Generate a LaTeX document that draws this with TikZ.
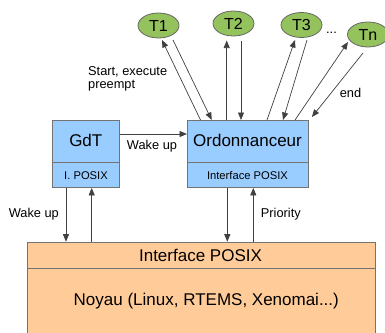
\documentclass[tikz,border=0pt]{standalone}
\usepackage{fontspec}
\setmainfont{Liberation Sans}
\usetikzlibrary{arrows.meta,calc,shapes.geometric}
\definecolor{taskgreen}{HTML}{94C25C}
\definecolor{boxblue}{HTML}{99CCFF}
\definecolor{boxorange}{HTML}{FFCC99}
\begin{document}
\begin{tikzpicture}[x=1pt,y=-1pt,
  task/.style={ellipse, draw=black!60, line width=0.8pt, fill=taskgreen,
    minimum width=41pt, minimum height=25pt, inner sep=0pt,
    font=\fontsize{16}{16}\selectfont},
  bluebox/.style={draw=black!55, line width=0.9pt, fill=boxblue, inner sep=0pt, anchor=north west},
  orangebox/.style={draw=black!55, line width=0.9pt, fill=boxorange, inner sep=0pt, anchor=north west},
  divider/.style={draw=black!55, line width=0.9pt},
  lblbig/.style={inner sep=0pt, font=\fontsize{17}{20}\selectfont},
  lblsmall/.style={inner sep=0pt, font=\fontsize{11.2}{13}\selectfont},
  lblmid/.style={inner sep=0pt, font=\fontsize{12.8}{12.5}\selectfont},
  conn/.style={draw=black!75, line width=0.7pt, -{Triangle[length=7.5pt,width=6pt]}}
]
\useasboundingbox (0,0) rectangle (385,332);
\clip (0,0) rectangle (385,332);

% tasks
\node[task] (t1) at (158.5,25.5) {T1};
\node[task] (t2) at (233.5,23.5) {T2};
\node[task] (t3) at (301.5,25) {T3};
\node[task] (tn) at (368,34.5) {Tn};
\node[lblmid, anchor=base] (ldots) at (331.5,33.5) {...};

% boxes
\node[bluebox, minimum width=67pt, minimum height=67pt] (gdt) at (52,120) {};
\node[bluebox, minimum width=121pt, minimum height=67pt] (ord) at (187,120) {};
\node[orangebox, minimum width=348.3pt, minimum height=110pt] (noyau) at (26.7,241.7) {};

\draw[divider] ($(gdt.north west)+(0,42)$) -- ($(gdt.north east)+(0,42)$);
\draw[divider] ($(ord.north west)+(0,42)$) -- ($(ord.north east)+(0,42)$);
\draw[divider] ($(noyau.north west)+(0,26.3)$) -- ($(noyau.north east)+(0,26.3)$);

% box texts
\node[lblbig, anchor=base] (gdttxt) at (85.8,146.5) {GdT};
\node[lblbig, anchor=base] (ordtxt) at (247.5,146.5) {Ordonnanceur};
\node[lblsmall, anchor=base] (gdtposix) at (86,179) {I. POSIX};
\node[lblsmall, anchor=base] (ordposix) at (247.5,179) {Interface POSIX};
\node[lblbig, anchor=base] (kposix) at (200.5,261.7) {Interface POSIX};
\node[lblbig, anchor=base] (kname) at (206.3,305.5) {Noyau (Linux, RTEMS, Xenomai...)};

% labels
\node[lblmid, anchor=north west, align=left] (lstart) at (88,66.5) {Start, execute\\preempt};
\node[lblmid, anchor=base] (lend) at (350.5,97.3) {end};
\node[lblmid, anchor=base] (lwake1) at (152,149.5) {Wake up};
\node[lblmid, anchor=base] (lwake2) at (33.8,217) {Wake up};
\node[lblmid, anchor=base] (lprio) at (280.8,217) {Priority};

% task connectors
\draw[conn] ($(ord.north west)+(13.5,0)$) -- ($(t1.center)+(3.5,14.5)$);
\draw[conn] ($(t1.center)+(14.5,14.5)$) -- ($(ord.north west)+(24.7,0)$);
\draw[conn] ($(ord.north west)+(39.7,0)$) -- ($(t2.center)+(-6.8,17)$);
\draw[conn] ($(t2.center)+(7.5,17)$) -- ($(ord.north west)+(54,0)$);
\draw[conn] ($(ord.north west)+(80,0)$) -- ($(t3.center)+(-6.5,15)$);
\draw[conn] ($(t3.center)+(5.5,15)$) -- ($(ord.north west)+(96,0)$);
\draw[conn] ($(ord.north west)+(108,0)$) -- ($(tn.center)+(-20,7.5)$);
\draw[conn] ($(tn.center)+(-5,18.5)$) -- ($(ord.north east)+(3,-3)$);

% wake up horizontal
\draw[conn] ($(gdt.north east)+(0,14)$) -- ($(ord.north west)+(0,14)$);

% vertical connectors to kernel
\draw[conn] ($(gdt.south west)+(14,0)$) -- ($(noyau.north west)+(39.3,0)$);
\draw[conn] ($(noyau.north west)+(65,0)$) -- ($(gdt.south west)+(39.7,0)$);
\draw[conn] ($(ord.south west)+(40.3,0)$) -- ($(noyau.north west)+(200.6,0)$);
\draw[conn] ($(noyau.north west)+(226.6,0)$) -- ($(ord.south west)+(66.3,0)$);
\end{tikzpicture}
\end{document}
